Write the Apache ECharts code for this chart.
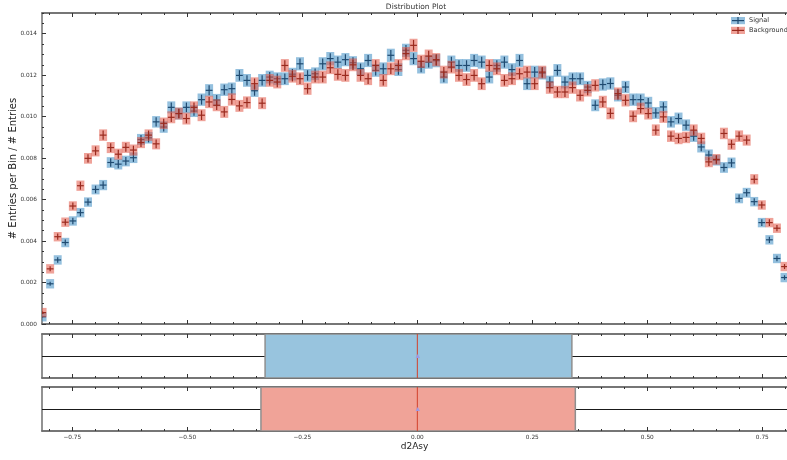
<!DOCTYPE html>
<html>
<head>
<meta charset="utf-8">
<script src="https://cdn.jsdelivr.net/npm/echarts@6.0.0/dist/echarts.min.js"></script>
<style>
  html, body { margin: 0; padding: 0; background: #fff; }
  #chart { width: 787px; height: 460px; }
</style>
</head>
<body>
<div id="chart"></div>
<script>
// histogram binning of d2Asy
const binLow = -0.823;
const binWidth = 0.01646;

// normalised entries per bin
const signal = [
  0.00035, 0.00194, 0.00309, 0.00393, 0.00497, 0.00537, 0.00588, 0.00649, 0.00670, 0.00779,
  0.00771, 0.00786, 0.00802, 0.00890, 0.00898, 0.00975, 0.00950, 0.01045, 0.01015, 0.01045,
  0.01027, 0.01082, 0.01127, 0.01080, 0.01130, 0.01135, 0.01199, 0.01175, 0.01125, 0.01175,
  0.01191, 0.01183, 0.01183, 0.01205, 0.01255, 0.01199, 0.01207, 0.01255, 0.01280, 0.01263,
  0.01275, 0.01260, 0.01231, 0.01271, 0.01223, 0.01231, 0.01296, 0.01227, 0.01320, 0.01280,
  0.01239, 0.01263, 0.01270, 0.01191, 0.01263, 0.01247, 0.01247, 0.01271, 0.01263, 0.01191,
  0.01247, 0.01263, 0.01227, 0.01271, 0.01159, 0.01215, 0.01210, 0.01167, 0.01223, 0.01167,
  0.01183, 0.01183, 0.01143, 0.01055, 0.01155, 0.01160, 0.01103, 0.01143, 0.01082, 0.01082,
  0.01066, 0.01018, 0.01047, 0.00975, 0.00991, 0.00959, 0.00906, 0.00854, 0.00815, 0.00790,
  0.00755, 0.00777, 0.00606, 0.00633, 0.00590, 0.00489, 0.00406, 0.00316, 0.00224, 0.00040
];
const signalErr = [
  0.00004, 0.00010, 0.00013, 0.00014, 0.00016, 0.00017, 0.00017, 0.00018, 0.00019, 0.00020,
  0.00020, 0.00020, 0.00020, 0.00021, 0.00022, 0.00022, 0.00022, 0.00023, 0.00023, 0.00023,
  0.00023, 0.00024, 0.00024, 0.00024, 0.00024, 0.00024, 0.00025, 0.00025, 0.00024, 0.00025,
  0.00025, 0.00025, 0.00025, 0.00025, 0.00026, 0.00025, 0.00025, 0.00026, 0.00026, 0.00026,
  0.00026, 0.00026, 0.00025, 0.00026, 0.00025, 0.00025, 0.00026, 0.00025, 0.00026, 0.00026,
  0.00025, 0.00026, 0.00026, 0.00025, 0.00026, 0.00025, 0.00025, 0.00026, 0.00026, 0.00025,
  0.00025, 0.00026, 0.00025, 0.00026, 0.00025, 0.00025, 0.00025, 0.00025, 0.00025, 0.00025,
  0.00025, 0.00025, 0.00024, 0.00023, 0.00024, 0.00024, 0.00024, 0.00024, 0.00024, 0.00024,
  0.00024, 0.00023, 0.00023, 0.00022, 0.00023, 0.00022, 0.00022, 0.00021, 0.00021, 0.00020,
  0.00020, 0.00020, 0.00018, 0.00018, 0.00017, 0.00016, 0.00015, 0.00013, 0.00011, 0.00005
];
const background = [
  0.00055, 0.00266, 0.00421, 0.00491, 0.00569, 0.00667, 0.00799, 0.00835, 0.00911, 0.00851,
  0.00819, 0.00852, 0.00839, 0.00875, 0.00911, 0.00869, 0.00968, 0.00997, 0.01015, 0.00991,
  0.01045, 0.01007, 0.01071, 0.01055, 0.01023, 0.01083, 0.01052, 0.01068, 0.01159, 0.01065,
  0.01175, 0.01167, 0.01247, 0.01195, 0.01183, 0.01135, 0.01191, 0.01191, 0.01236, 0.01204,
  0.01199, 0.01250, 0.01199, 0.01183, 0.01247, 0.01175, 0.01231, 0.01247, 0.01304, 0.01344,
  0.01267, 0.01292, 0.01275, 0.01215, 0.01239, 0.01199, 0.01179, 0.01199, 0.01159, 0.01247,
  0.01231, 0.01175, 0.01183, 0.01207, 0.01215, 0.01159, 0.01215, 0.01140, 0.01119, 0.01119,
  0.01140, 0.01103, 0.01127, 0.01151, 0.01071, 0.01016, 0.01111, 0.01079, 0.01002, 0.01039,
  0.01015, 0.00935, 0.00999, 0.00906, 0.00895, 0.00900, 0.00935, 0.00895, 0.00782, 0.00794,
  0.00919, 0.00867, 0.00906, 0.00887, 0.00698, 0.00574, 0.00489, 0.00462, 0.00277, 0.00060
];
const backgroundErr = [
  0.00005, 0.00012, 0.00015, 0.00016, 0.00017, 0.00019, 0.00020, 0.00021, 0.00022, 0.00021,
  0.00021, 0.00021, 0.00021, 0.00021, 0.00022, 0.00021, 0.00022, 0.00023, 0.00023, 0.00023,
  0.00023, 0.00023, 0.00024, 0.00023, 0.00023, 0.00024, 0.00023, 0.00024, 0.00025, 0.00023,
  0.00025, 0.00025, 0.00025, 0.00025, 0.00025, 0.00024, 0.00025, 0.00025, 0.00025, 0.00025,
  0.00025, 0.00025, 0.00025, 0.00025, 0.00025, 0.00025, 0.00025, 0.00025, 0.00026, 0.00026,
  0.00026, 0.00026, 0.00026, 0.00025, 0.00025, 0.00025, 0.00025, 0.00025, 0.00025, 0.00025,
  0.00025, 0.00025, 0.00025, 0.00025, 0.00025, 0.00025, 0.00025, 0.00024, 0.00024, 0.00024,
  0.00024, 0.00024, 0.00024, 0.00024, 0.00024, 0.00023, 0.00024, 0.00024, 0.00023, 0.00023,
  0.00023, 0.00022, 0.00023, 0.00022, 0.00022, 0.00022, 0.00022, 0.00022, 0.00020, 0.00020,
  0.00022, 0.00021, 0.00022, 0.00021, 0.00019, 0.00017, 0.00016, 0.00015, 0.00012, 0.00006
];

// box plot summaries: [q1, median, q3, whisker low, whisker high, mean]
const signalBox = [-0.331, 0.0, 0.336, -0.823, 0.823, 0.001];
const backgroundBox = [-0.340, 0.0, 0.3435, -0.823, 0.823, 0.001];

const xTicks = [-0.75, -0.5, -0.25, 0, 0.25, 0.5, 0.75];
const yTicks = [0, 0.002, 0.004, 0.006, 0.008, 0.010, 0.012, 0.014];

const xMin = -0.816;
const xMax = 0.8037;

const xMinor = [];
for (let v = -0.8; v <= 0.8001; v += 0.05) xMinor.push(+v.toFixed(2));
const yMinor = [];
for (let v = 0; v <= 0.0150001; v += 0.0005) yMinor.push(+v.toFixed(4));

const spine = '#6e6e6e';
const tickColor = '#333';
const font = 'DejaVu Sans';

function toPoints(values, errs) {
  return values.map((v, i) => [binLow + (i + 0.5) * binWidth, v, errs[i]]);
}

function errorBarItem(fill, edge) {
  return function (params, api) {
    const x = api.value(0);
    const y = api.value(1);
    const e = api.value(2);
    const p = api.coord([x, y]);
    const xl = api.coord([x - binWidth / 2, y])[0];
    const xr = api.coord([x + binWidth / 2, y])[0];
    const yt = api.coord([x, y + e])[1];
    const yb = api.coord([x, y - e])[1];
    const half = Math.max(p[1] - yt, 3.5) + 1.2;
    return {
      type: 'group',
      children: [
        {
          type: 'rect',
          shape: { x: xl - 0.2, y: p[1] - half, width: xr - xl + 0.4, height: half * 2 },
          style: { fill: fill, opacity: 0.55 }
        },
        {
          type: 'line',
          shape: { x1: xl + 0.4, y1: p[1], x2: xr - 0.4, y2: p[1] },
          style: { stroke: edge, lineWidth: 1.2 }
        },
        {
          type: 'line',
          shape: { x1: p[0], y1: yt, x2: p[0], y2: yb },
          style: { stroke: edge, lineWidth: 1.2 }
        }
      ]
    };
  };
}

function boxItem(fill) {
  return function (params, api) {
    const q1 = api.coord([api.value(0), 0])[0];
    const med = api.coord([api.value(1), 0])[0];
    const q3 = api.coord([api.value(2), 0])[0];
    const lo = api.coord([api.value(3), 0])[0];
    const hi = api.coord([api.value(4), 0])[0];
    const mean = api.coord([api.value(5), 0])[0];
    const yTop = api.coord([0, 1])[1];
    const yBot = api.coord([0, 0])[1];
    const yMid = Math.round(api.coord([0, 0.5])[1]) + 0.5;
    return {
      type: 'group',
      children: [
        { type: 'line', shape: { x1: lo, y1: yMid, x2: q1, y2: yMid }, style: { stroke: '#1a1a1a', lineWidth: 1 } },
        { type: 'line', shape: { x1: q3, y1: yMid, x2: hi, y2: yMid }, style: { stroke: '#1a1a1a', lineWidth: 1 } },
        {
          type: 'rect',
          shape: { x: q1, y: yTop, width: q3 - q1, height: yBot - yTop },
          style: { fill: fill, stroke: '#8f8f8f', lineWidth: 1.5 }
        },
        { type: 'line', shape: { x1: med, y1: yTop, x2: med, y2: yBot }, style: { stroke: '#d2402c', lineWidth: 1 } },
        {
          type: 'polygon',
          shape: { points: [[mean, yMid - 2.5], [mean - 2.2, yMid + 1.6], [mean + 2.2, yMid + 1.6]] },
          style: { fill: '#9d9ae6' }
        }
      ]
    };
  };
}

function xAxis(gridIndex, position, tickValues, tickLen, extra) {
  return Object.assign({
    type: 'value',
    gridIndex: gridIndex,
    position: position,
    min: xMin,
    max: xMax,
    axisLine: { show: true, onZero: false, lineStyle: { color: spine, width: 1.5 } },
    axisTick: { show: true, inside: true, length: tickLen, customValues: tickValues, lineStyle: { color: tickColor, width: 1 } },
    axisLabel: { show: false },
    splitLine: { show: false }
  }, extra || {});
}

const xAxes = [];
[0, 1, 2].forEach(g => {
  ['bottom', 'top'].forEach(pos => {
    const labelled = g === 2 && pos === 'bottom';
    xAxes.push(xAxis(g, pos, xTicks, 4, labelled ? {
      axisLabel: {
        show: true,
        customValues: xTicks,
        margin: 3,
        fontSize: 5.8,
        fontFamily: font,
        color: '#333',
        formatter: v => v.toFixed(2).replace('-', '\u2212')
      },
      name: 'd2Asy',
      nameLocation: 'middle',
      nameGap: 11,
      nameMoveOverlap: false,
      nameTextStyle: { fontSize: 9, fontFamily: font, color: '#222' }
    } : null));
    xAxes.push(xAxis(g, pos, xMinor, 2));
  });
});
// x axis indices: grid g, bottom major = 4g, bottom minor = 4g+1, top major = 4g+2, top minor = 4g+3

function panelYAxis(gridIndex) {
  return {
    type: 'value', gridIndex: gridIndex, position: 'left', min: 0, max: 1,
    axisLine: { show: true, onZero: false, lineStyle: { color: spine, width: 1.5 } },
    axisTick: { show: false }, axisLabel: { show: false }, splitLine: { show: false }
  };
}

const yAxes = [
  {
    type: 'value', gridIndex: 0, position: 'left', min: 0, max: 0.015,
    axisLine: { show: true, onZero: false, lineStyle: { color: spine, width: 1.5 } },
    axisTick: { show: true, inside: true, length: 4, customValues: yTicks, lineStyle: { color: tickColor, width: 1 } },
    axisLabel: {
      show: true, customValues: yTicks, margin: 5, fontSize: 5.8, fontFamily: font, color: '#333',
      formatter: v => v.toFixed(3)
    },
    splitLine: { show: false },
    name: '# Entries per Bin / # Entries',
    nameLocation: 'middle',
    nameGap: 24,
    nameMoveOverlap: false,
    nameTextStyle: { fontSize: 10, fontFamily: font, color: '#222' }
  },
  {
    type: 'value', gridIndex: 0, position: 'left', min: 0, max: 0.015,
    axisLine: { show: false, onZero: false },
    axisTick: { show: true, inside: true, length: 2, customValues: yMinor, lineStyle: { color: tickColor, width: 1 } },
    axisLabel: { show: false },
    splitLine: { show: false }
  },
  panelYAxis(1),
  panelYAxis(2)
];

const blueFill = 'rgb(60,140,195)';
const blueEdge = '#1f4a70';
const redFill = 'rgb(225,85,70)';
const redEdge = '#9a2a1e';

function legendEntry(y, fill, edge, label) {
  return [
    { type: 'rect', shape: { x: 731, y: y - 3.6, width: 14, height: 7.2 }, style: { fill: fill, opacity: 0.55 } },
    { type: 'line', shape: { x1: 732, y1: y, x2: 744, y2: y }, style: { stroke: edge, lineWidth: 1.2 } },
    { type: 'line', shape: { x1: 738, y1: y - 3.5, x2: 738, y2: y + 3.5 }, style: { stroke: edge, lineWidth: 1.2 } },
    { type: 'text', x: 749, y: y, style: { text: label, fontSize: 6.5, fontFamily: font, fill: '#333', verticalAlign: 'middle' } }
  ];
}

const chart = echarts.init(document.getElementById('chart'), null, { renderer: 'canvas' });
chart.setOption({
  animation: false,
  backgroundColor: '#fff',
  title: {
    text: 'Distribution Plot',
    left: 416,
    top: 3,
    padding: 0,
    textAlign: 'center',
    textStyle: { fontSize: 7.5, fontWeight: 'normal', fontFamily: font, color: '#333' }
  },
  grid: [
    { left: 42, right: 0, top: 13, height: 311, outerBoundsMode: 'none' },
    { left: 42, right: 0, top: 334, height: 44, outerBoundsMode: 'none' },
    { left: 42, right: 0, top: 387, height: 44, outerBoundsMode: 'none' }
  ],
  xAxis: xAxes,
  yAxis: yAxes,
  graphic: legendEntry(20.6, blueFill, blueEdge, 'Signal').concat(legendEntry(30.4, redFill, redEdge, 'Background')),
  series: [
    {
      name: 'Signal', type: 'custom', coordinateSystem: 'cartesian2d',
      xAxisIndex: 0, yAxisIndex: 0, clip: true,
      renderItem: errorBarItem(blueFill, blueEdge),
      data: toPoints(signal, signalErr)
    },
    {
      name: 'Background', type: 'custom', coordinateSystem: 'cartesian2d',
      xAxisIndex: 0, yAxisIndex: 0, clip: true,
      renderItem: errorBarItem(redFill, redEdge),
      data: toPoints(background, backgroundErr)
    },
    {
      name: 'Signal box', type: 'custom', coordinateSystem: 'cartesian2d',
      xAxisIndex: 4, yAxisIndex: 2, clip: true,
      renderItem: boxItem('#98c4de'),
      data: [signalBox]
    },
    {
      name: 'Background box', type: 'custom', coordinateSystem: 'cartesian2d',
      xAxisIndex: 8, yAxisIndex: 3, clip: true,
      renderItem: boxItem('#f0a398'),
      data: [backgroundBox]
    }
  ]
});
</script>
</body>
</html>
